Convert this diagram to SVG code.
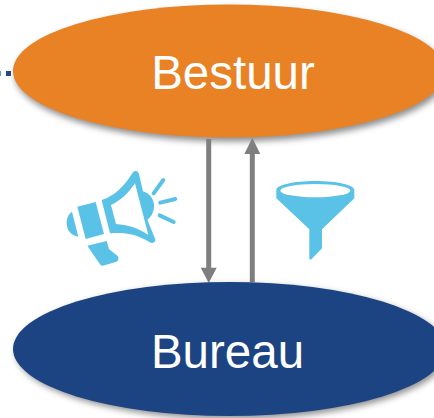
<svg xmlns="http://www.w3.org/2000/svg" width="434" height="418" viewBox="0 0 434 418">
<style>
.lbl{font-family:"Liberation Sans",Arial,sans-serif;font-size:47.5px;fill:#fff;text-anchor:middle}
.conn{stroke:#7f7f7f;stroke-width:5;fill:none}
.head{fill:#7f7f7f}
.icon{fill:#5bc2e7}
.shadow{fill:#444;opacity:.6}
</style>
<defs>
<filter id="sh" x="-10%" y="-20%" width="120%" height="150%"><feGaussianBlur stdDeviation="3"/></filter>
</defs>
<rect width="434" height="418" fill="#fff"/>
<g id="dots" fill="#1f4a8a"><rect x="-3" y="71" width="4" height="5" opacity=".6"/><rect x="6" y="71" width="5" height="5"/></g>
<g id="node-bestuur">
<ellipse class="shadow" cx="231" cy="75" rx="216" ry="66.500" filter="url(#sh)"/>
<ellipse cx="229" cy="71" rx="216" ry="66.500" fill="#e88224"/>
<text class="lbl" x="233" y="88.500">Bestuur</text>
</g>
<g id="connectors">
<path class="conn" d="M208.700 139V269"/><path class="head" d="M200.700 267.700L216.700 267.700L208.700 283Z"/>
<path class="conn" d="M252.300 282V152"/><path class="head" d="M244.300 154L260.300 154L252.300 138Z"/>
</g>
<g id="node-bureau">
<ellipse class="shadow" cx="232" cy="352" rx="216" ry="67" filter="url(#sh)"/>
<ellipse cx="229.500" cy="349" rx="216.500" ry="67" fill="#1c4382"/>
<text class="lbl" x="227.500" y="367.500">Bureau</text>
</g>
<g id="icon-megaphone" transform="translate(50 150) scale(.3333)">
<path class="icon" fill-rule="evenodd" d="M155 150C195 138 225 105 248 68C254 60 264 62 267 72L279 124C300 130 314 150 312 172C310 192 300 205 292 209L316 268C318 278 306 282 298 276C260 252 222 246 180 250ZM183 165L198 222C232 224 265 234 295 255L255 100C235 130 212 152 183 165Z"/>
<path class="icon" d="M82 170L137 156L162 252L107 267Z"/>
<path class="icon" d="M66 185C50 195 45 220 55 240C62 252 72 258 85 260Z"/>
<path class="icon" d="M112 287L170 273L177 297L203 318C208 326 205 334 197 336L158 347C154 347 152 346 150 343Z"/>
<g stroke="#5bc2e7" stroke-width="12" stroke-linecap="round"><path d="M311 130L340 90"/><path d="M331 158L376 147"/><path d="M329 196L371 216"/></g>
</g>
<g id="icon-funnel" transform="translate(190 130) scale(.3333)">
<path class="icon" d="M259 180C259 165 310 153 376 153C442 153 493 165 493 180V205L396 298V355L364 388C360 391 358 388 358 384V298L259 205Z"/>
<ellipse cx="376" cy="182" rx="105" ry="20" fill="#fff"/>
</g>
</svg>
